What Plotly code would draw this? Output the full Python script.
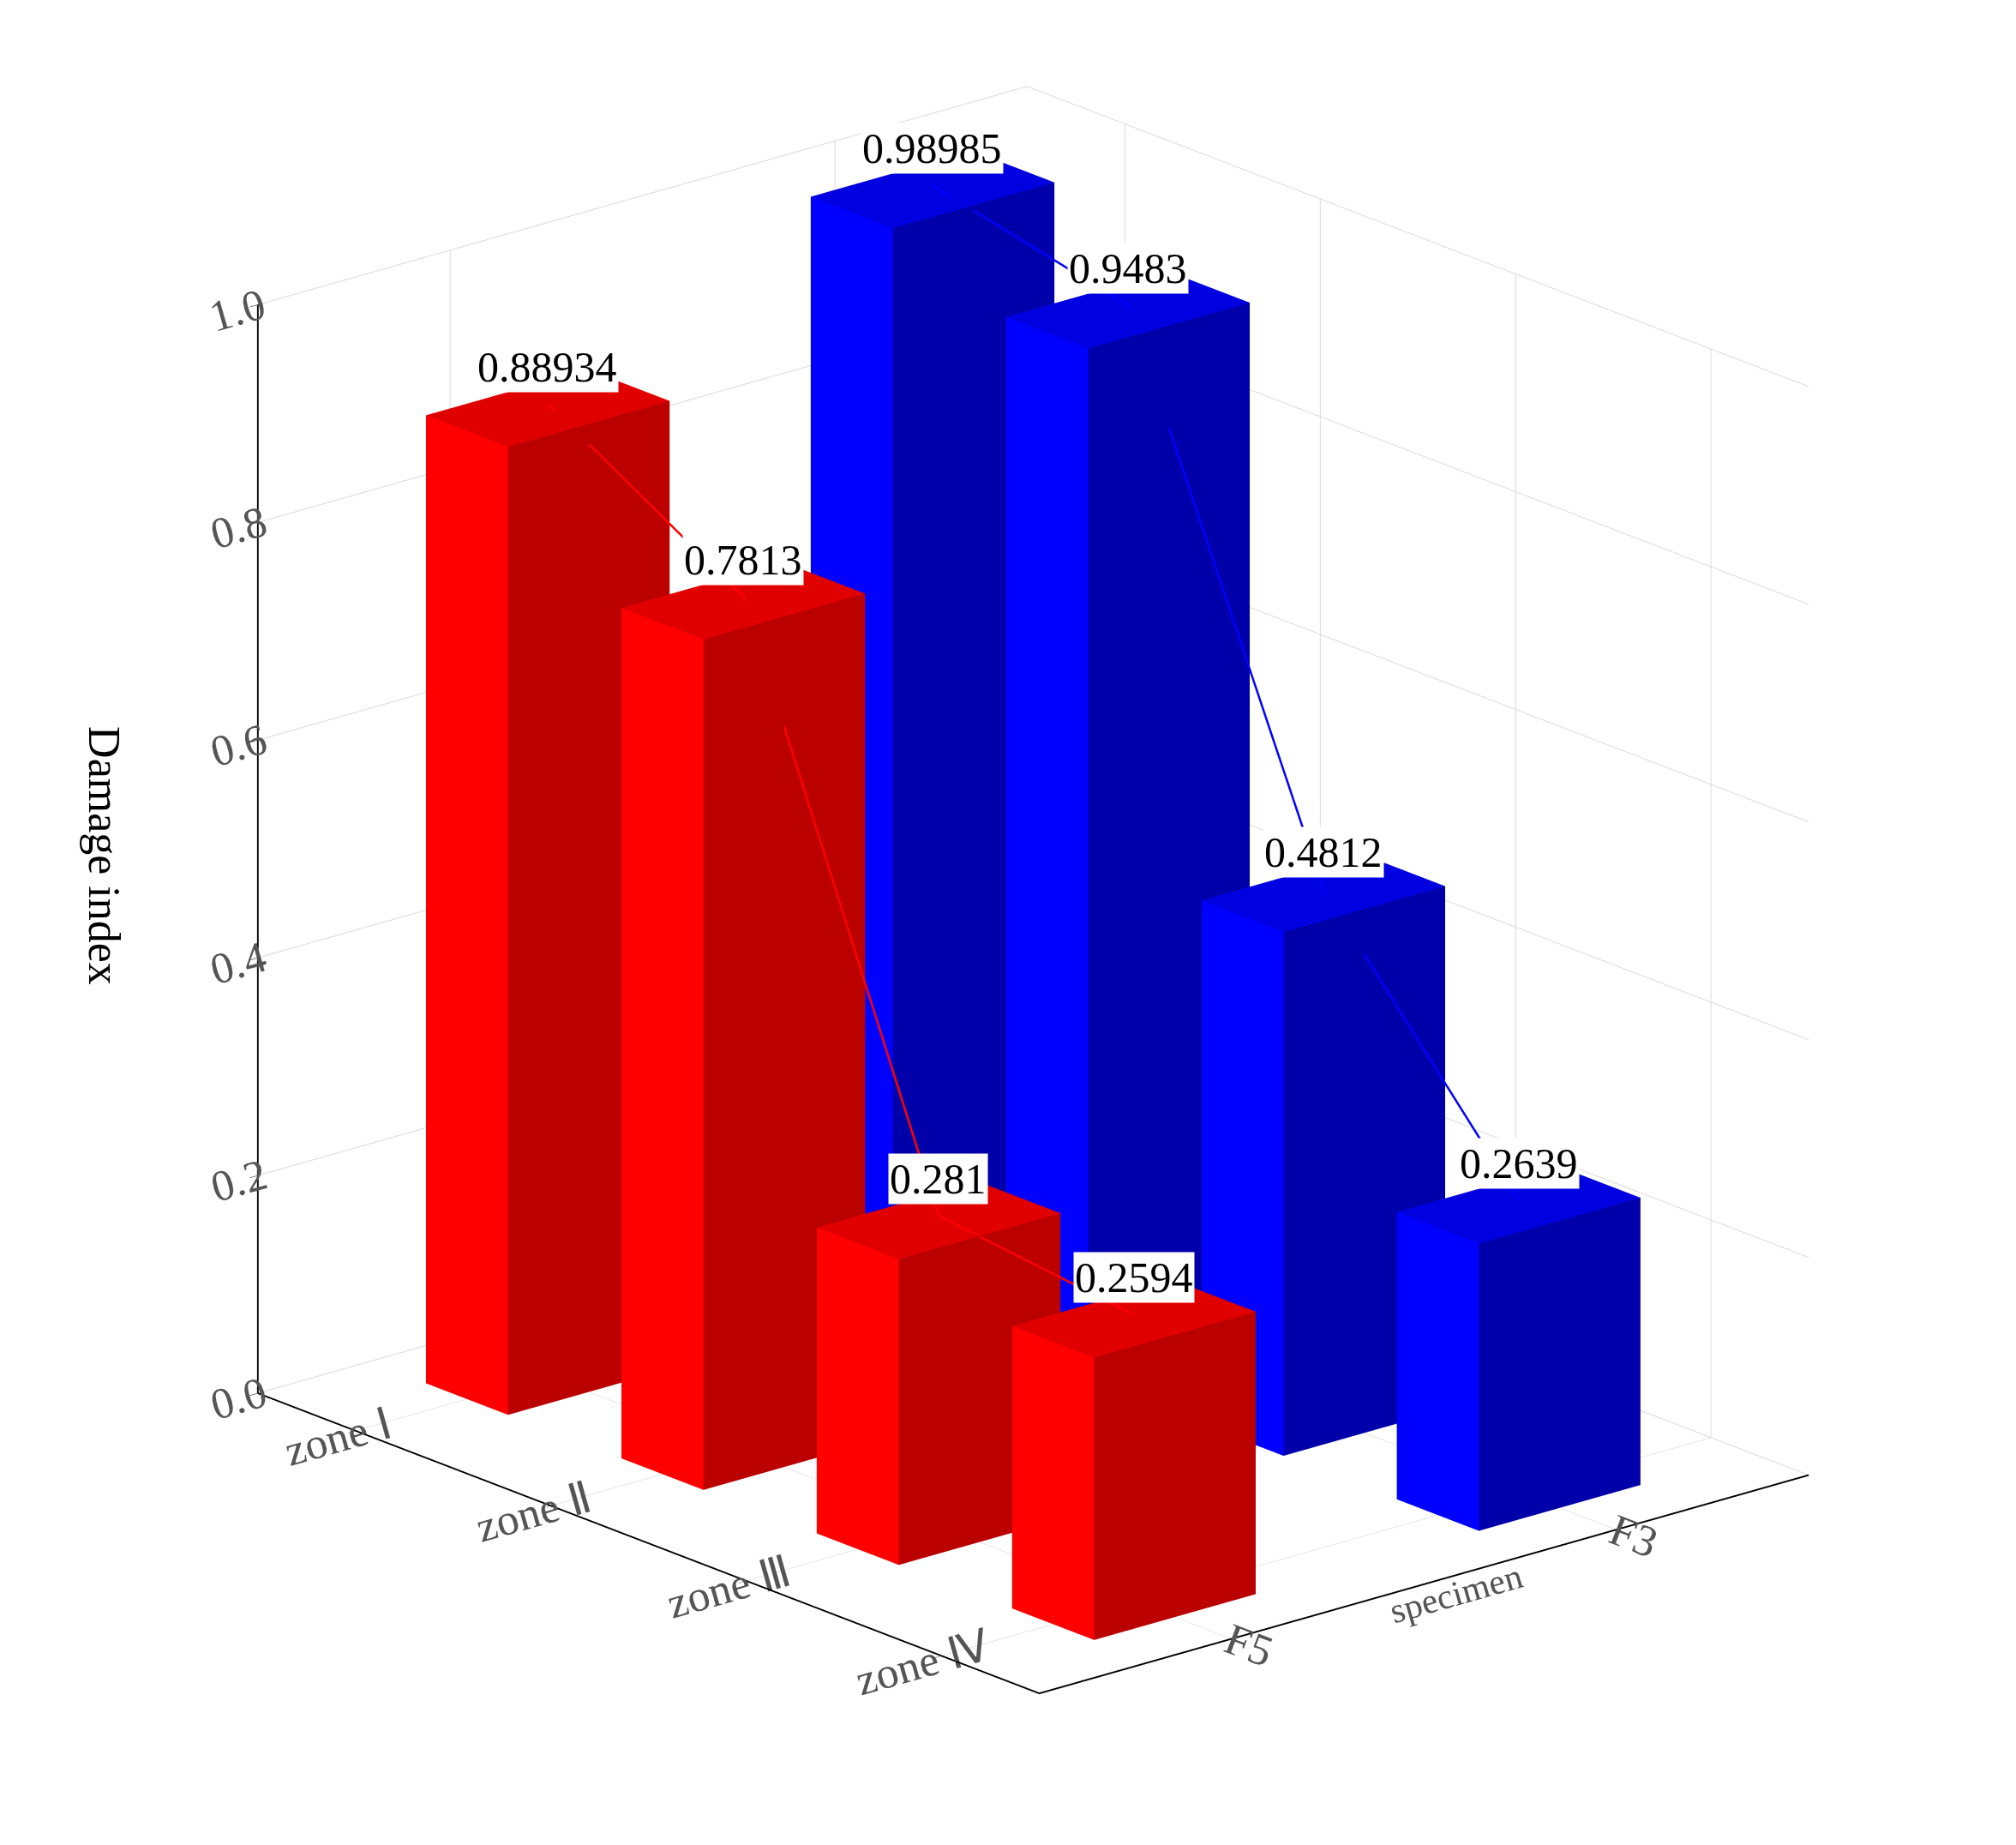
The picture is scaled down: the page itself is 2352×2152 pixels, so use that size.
import plotly.graph_objects as go

zones = ["zone Ⅰ", "zone Ⅱ", "zone Ⅲ", "zone Ⅳ"]
specimens = ["F5", "F3"]
red_vals = [0.88934, 0.7813, 0.281, 0.2594]
blue_vals = [0.98985, 0.9483, 0.4812, 0.2639]
red_labels = ["0.88934", "0.7813", "0.281", "0.2594"]
blue_labels = ["0.98985", "0.9483", "0.4812", "0.2639"]

def box(xc, yc, h, w, colors):
    x0, x1 = xc - w / 2, xc + w / 2
    y0, y1 = yc - w / 2, yc + w / 2
    X = [x0, x1, x1, x0, x0, x1, x1, x0]
    Y = [y0, y0, y1, y1, y0, y0, y1, y1]
    Z = [0, 0, 0, 0, h, h, h, h]
    tris = [
        (4, 5, 6, "top"), (4, 6, 7, "top"),
        (0, 1, 5, "front"), (0, 5, 4, "front"),
        (3, 2, 6, "back"), (3, 6, 7, "back"),
        (1, 2, 6, "side"), (1, 6, 5, "side"),
        (0, 3, 7, "oside"), (0, 7, 4, "oside"),
        (0, 1, 2, "bot"), (0, 2, 3, "bot"),
    ]
    return go.Mesh3d(
        x=X, y=Y, z=Z,
        i=[t[0] for t in tris], j=[t[1] for t in tris], k=[t[2] for t in tris],
        facecolor=[colors[t[3]] for t in tris],
        flatshading=True,
        lighting=dict(ambient=1, diffuse=0, specular=0, fresnel=0),
        showscale=False, hoverinfo="skip",
    )

red_c = dict(top="#e00000", front="#ff0000", back="#ff0000", side="#bb0000", oside="#bb0000", bot="#bb0000")
blue_c = dict(top="#0000e0", front="#0000ff", back="#0000ff", side="#0000aa", oside="#0000aa", bot="#0000aa")

fig = go.Figure()
xs = list(range(len(zones)))
W = 0.42
for i, v in enumerate(blue_vals):
    fig.add_trace(box(xs[i], 1, v, W, blue_c))
for i, v in enumerate(red_vals):
    fig.add_trace(box(xs[i], 0, v, W, red_c))

annots = []
for vals, labs, yv, col in [(blue_vals, blue_labels, 1, "#0000ff"), (red_vals, red_labels, 0, "#ff0000")]:
    fig.add_trace(go.Scatter3d(x=xs, y=[yv] * 4, z=[v + 0.004 for v in vals], mode="lines",
                               line=dict(color=col, width=5), hoverinfo="skip"))
    for x, v, t in zip(xs, vals, labs):
        annots.append(dict(x=x, y=yv, z=v, text=t, showarrow=False, yshift=48,
                           bgcolor="white",
                           font=dict(family="Liberation Serif", size=50, color="black")))

axfont = dict(family="Liberation Serif", size=25, color="#555")
common = dict(showbackground=False, gridcolor="#d8d8d8", showline=True, linecolor="black",
              linewidth=4, ticks="outside", tickcolor="black", ticklen=12, zeroline=False,
              showspikes=False)
fig.update_layout(
    width=2352, height=2152,
    paper_bgcolor="white",
    showlegend=False,
    margin=dict(l=0, r=0, t=0, b=0),
    font=dict(family="Liberation Serif"),
    annotations=[dict(xref="paper", yref="paper", x=0.035, y=0.54, text="Damage index",
                      textangle=90, showarrow=False,
                      font=dict(family="Liberation Serif", size=52, color="black"))],
    scene=dict(
        domain=dict(x=[0.03, 1.0], y=[0.0, 1.0]),
        annotations=annots,
        xaxis=dict(title=dict(text=""), tickvals=xs, ticktext=zones,
                   range=[-0.5, 3.5], tickfont=axfont, **common),
        yaxis=dict(title=dict(text="specimen", font=dict(family="Liberation Serif", size=42, color="#555")),
                   tickvals=[0, 1], ticktext=specimens,
                   range=[-0.5, 1.5], tickfont=axfont, **common),
        zaxis=dict(title=dict(text=""),
                   range=[0, 1.0], tickvals=[0, 0.2, 0.4, 0.6, 0.8, 1.0],
                   ticktext=["0.0", "0.2", "0.4", "0.6", "0.8", "1.0"],
                   tickfont=dict(family="Liberation Serif", size=25, color="#555"), **common),
        aspectmode="manual", aspectratio=dict(x=1.3, y=1.1, z=1.25),
        camera=dict(eye=dict(x=1.3, y=-1.1, z=0.55), center=dict(x=0.02, y=0, z=-0.04),
                    projection=dict(type="orthographic")),
    ),
)
fig.write_html("out.html")
